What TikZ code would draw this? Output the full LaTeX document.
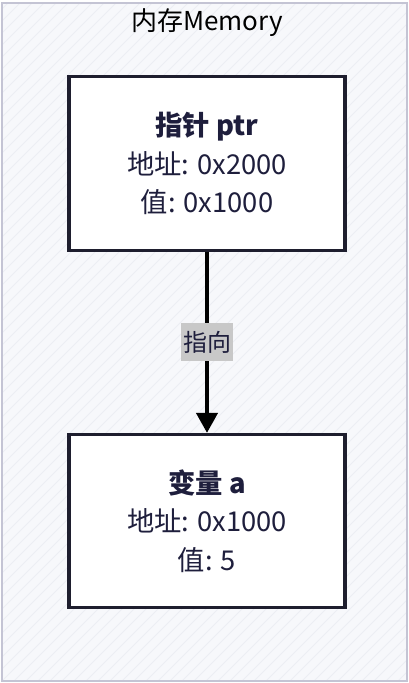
\documentclass[tikz,border=0pt]{standalone}
\usepackage{fontspec}
\setmainfont{Noto Sans CJK SC}
\usetikzlibrary{arrows.meta}
\definecolor{ink}{HTML}{1E1E3C}
\definecolor{edge}{HTML}{1E1E2E}
\definecolor{paper}{HTML}{F7F8FB}
\definecolor{hatch}{HTML}{ECEEF3}
\definecolor{frame}{HTML}{C4C4D4}
\definecolor{tag}{HTML}{C8C8C8}
\begin{document}
\begin{tikzpicture}[x=0.75pt, y=-0.75pt,
    cell/.style={rectangle, draw=edge, fill=white, line width=2.3pt,
      minimum width=207pt, minimum height=130pt, align=center,
      text=ink, font=\fontsize{20.5}{29}\selectfont},
    tag/.style={fill=tag, text=ink, inner xsep=1.5pt, inner ysep=0pt,
      minimum height=28.5pt, font=\fontsize{18}{20}\selectfont}]
  \useasboundingbox (0,0) rectangle (409,683);

  % memory area
  \fill[paper] (2,3) rectangle (407,681);
  \begin{scope}
    \clip (2,3) rectangle (407,681);
    \foreach \i in {-696,-684,...,420}
      \draw[hatch, line width=0.6pt] (\i,683) -- (\i+683,0);
  \end{scope}
  \draw[frame, line width=2.2pt] (2,3) rectangle (407,681);
  \node[text=black, font=\fontsize{19.5}{22}\selectfont] (title) at (207,23)
    {内存Memory};

  \begin{scope}[every node/.style={cell}]
    \node (ptr) at (207,163.5) {\textbf{指针 ptr}\\地址: 0x2000\\值: 0x1000};
    \node (var) at (207,521) {\textbf{变量 a}\\地址: 0x1000\\值: 5};
  \end{scope}

  \draw[line width=2.6pt, -{Triangle[length=15pt, width=16pt]}]
    (ptr) -- node[tag] {指向} (var);
\end{tikzpicture}
\end{document}
